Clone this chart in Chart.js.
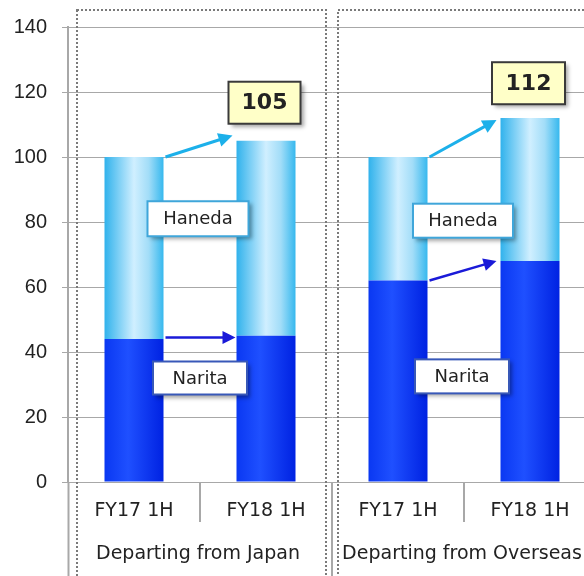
<!DOCTYPE html>
<html>
<head>
<meta charset="utf-8">
<script src="https://cdn.jsdelivr.net/npm/chart.js@4/dist/chart.umd.min.js"></script>
<style>
  html, body { margin: 0; padding: 0; background: #fff; overflow: hidden; }
  #wrap { width: 596px; height: 576px; }
</style>
</head>
<body>
<div id="wrap"><canvas id="chart" width="596" height="576"></canvas></div>
<script>
const categories = ['FY17 1H', 'FY18 1H', 'FY17 1H', 'FY18 1H'];
const groups = ['Departing from Japan', 'Departing from Overseas'];
const narita = [44, 45, 62, 68];
const haneda = [56, 60, 38, 44];
const yTicks = [0, 20, 40, 60, 80, 100, 120, 140];

const barPct = 0.447;
const textFont = 'DejaVu Sans';
const textColor = '#222222';

// horizontal gradient across each bar, like a shaded cylinder
const barFill = (stops) => (c) => {
	const xs = c.chart.scales.x;
	if (!xs || c.dataIndex === undefined) return stops[0][1];
	const mid = xs.getPixelForValue(c.dataIndex);
	const hw = xs.width / categories.length * barPct / 2;
	if (!isFinite(mid) || !isFinite(hw) || hw <= 0) return stops[0][1];
	const g = c.chart.ctx.createLinearGradient(mid - hw, 0, mid + hw, 0);
	stops.forEach(([o, col]) => g.addColorStop(o, col));
	return g;
};

const drawArrow = (ctx, x1, y1, x2, y2, color, width, head) => {
	const a = Math.atan2(y2 - y1, x2 - x1);
	ctx.save();
	ctx.strokeStyle = color;
	ctx.fillStyle = color;
	ctx.lineWidth = width;
	ctx.beginPath();
	ctx.moveTo(x1, y1);
	ctx.lineTo(x2 - Math.cos(a) * head * 0.8, y2 - Math.sin(a) * head * 0.8);
	ctx.stroke();
	ctx.beginPath();
	ctx.moveTo(x2, y2);
	ctx.lineTo(x2 - Math.cos(a) * head + Math.sin(a) * head * 0.5, y2 - Math.sin(a) * head - Math.cos(a) * head * 0.5);
	ctx.lineTo(x2 - Math.cos(a) * head - Math.sin(a) * head * 0.5, y2 - Math.sin(a) * head + Math.cos(a) * head * 0.5);
	ctx.closePath();
	ctx.fill();
	ctx.restore();
};

const drawBox = (ctx, cx, cy, w, h, fill, stroke, text, font) => {
	ctx.save();
	ctx.shadowColor = 'rgba(0,0,0,0.35)';
	ctx.shadowBlur = 4;
	ctx.shadowOffsetX = 3;
	ctx.shadowOffsetY = 3;
	ctx.fillStyle = fill;
	ctx.fillRect(cx - w / 2, cy - h / 2, w, h);
	ctx.shadowColor = 'transparent';
	ctx.strokeStyle = stroke;
	ctx.lineWidth = 2;
	ctx.strokeRect(cx - w / 2, cy - h / 2, w, h);
	ctx.fillStyle = textColor;
	ctx.font = font;
	ctx.textAlign = 'center';
	ctx.textBaseline = 'middle';
	ctx.fillText(text, cx, cy + 1);
	ctx.restore();
};

const decorations = {
	id: 'decorations',
	beforeDatasetsDraw(chart) {
		const { ctx, scales: { x } } = chart;
		const px = i => x.getPixelForValue(i);
		const mid = (px(1) + px(2)) / 2;
		// dotted frames around each group
		ctx.save();
		ctx.strokeStyle = '#7a7a7a';
		ctx.lineWidth = 2;
		ctx.setLineDash([2, 2]);
		ctx.strokeRect(x.left + 9, 10, mid - 6 - (x.left + 9), 600);
		ctx.strokeRect(mid + 6, 10, 600, 600);
		ctx.restore();
	},
	afterDatasetsDraw(chart) {
		const { ctx, scales: { x, y } } = chart;
		const px = i => x.getPixelForValue(i);
		const hw = x.width / categories.length * barPct / 2;
		const total = i => narita[i] + haneda[i];

		drawArrow(ctx, px(0) + hw + 2, y.getPixelForValue(total(0)), px(1) - hw - 4, y.getPixelForValue(106.6), '#1cb0ea', 3, 14);
		drawArrow(ctx, px(2) + hw + 2, y.getPixelForValue(total(2)), px(3) - hw - 4, y.getPixelForValue(111.4), '#1cb0ea', 3, 14);
		drawArrow(ctx, px(0) + hw + 2, y.getPixelForValue(narita[0] + 0.5), px(1) - hw - 1, y.getPixelForValue(narita[0] + 0.5), '#1a1ad8', 2.5, 13);
		drawArrow(ctx, px(2) + hw + 2, y.getPixelForValue(narita[2]), px(3) - hw - 4, y.getPixelForValue(narita[3]), '#1a1ad8', 2.5, 13);

		const g1 = (px(0) + px(1)) / 2;
		const g2 = (px(2) + px(3)) / 2;
		const labelFont = '18px "' + textFont + '"';
		drawBox(ctx, g1 - 2, y.getPixelForValue(81), 101, 35, '#ffffff', '#3fa6da', 'Haneda', labelFont);
		drawBox(ctx, g2 - 1, y.getPixelForValue(80.4), 100, 34, '#ffffff', '#3fa6da', 'Haneda', labelFont);
		drawBox(ctx, g1, y.getPixelForValue(32), 94, 33, '#ffffff', '#3858b8', 'Narita', labelFont);
		drawBox(ctx, g2 - 2, y.getPixelForValue(32.5), 94, 34, '#ffffff', '#3858b8', 'Narita', labelFont);

		const totalFont = 'bold 22px "' + textFont + '"';
		drawBox(ctx, px(1) - 1.5, y.getPixelForValue(116.7), 72, 42, '#ffffc8', '#3a3a3a', String(total(1)), totalFont);
		drawBox(ctx, px(3) - 1.5, y.getPixelForValue(122.7), 73, 42, '#ffffc8', '#3a3a3a', String(total(3)), totalFont);
	},
	afterDraw(chart) {
		const { ctx, scales: { x }, chartArea } = chart;
		const px = i => x.getPixelForValue(i);
		const bound = i => (px(i) + px(i + 1)) / 2;
		const base = chartArea.bottom;
		ctx.save();
		ctx.strokeStyle = '#a8a8a8';
		ctx.lineWidth = 2;
		[0, 2].forEach(i => {
			ctx.beginPath();
			ctx.moveTo(bound(i), base);
			ctx.lineTo(bound(i), base + 40);
			ctx.stroke();
		});
		[x.left + 0.5, bound(1)].forEach(bx => {
			ctx.beginPath();
			ctx.moveTo(bx, base);
			ctx.lineTo(bx, chart.height);
			ctx.stroke();
		});
		ctx.fillStyle = textColor;
		ctx.font = '19px "' + textFont + '"';
		ctx.textAlign = 'center';
		ctx.textBaseline = 'middle';
		groups.forEach((g, i) => {
			ctx.fillText(g, bound(i * 2) - 2, base + 72);
		});
		ctx.restore();
	}
};

new Chart(document.getElementById('chart').getContext('2d'), {
	type: 'bar',
	data: {
		labels: categories,
		datasets: [
			{
				label: 'Narita',
				data: narita,
				backgroundColor: barFill([[0, '#0a38f2'], [0.4, '#1f50ff'], [1, '#0022e2']]),
				barPercentage: barPct,
				categoryPercentage: 1
			},
			{
				label: 'Haneda',
				data: haneda,
				backgroundColor: barFill([[0, '#30b2ec'], [0.5, '#d0efff'], [0.75, '#a2ddf8'], [1, '#36b8ee']]),
				barPercentage: barPct,
				categoryPercentage: 1
			}
		]
	},
	options: {
		responsive: false,
		animation: false,
		layout: { padding: { top: 20, left: 0, right: 0, bottom: 0 } },
		plugins: { legend: { display: false }, tooltip: { enabled: false } },
		scales: {
			x: {
				stacked: true,
				grid: { display: false, drawTicks: false },
				border: { display: false },
				ticks: { color: textColor, font: { family: textFont, size: 19 }, padding: 18 },
				afterFit: s => { s.height = 94; }
			},
			y: {
				stacked: true,
				min: 0,
				max: 140,
				afterBuildTicks: s => { s.ticks = yTicks.map(v => ({ value: v })); },
				ticks: { color: textColor, font: { family: 'Liberation Sans', size: 20 }, padding: 15 },
				grid: { color: '#a8a8a8', tickLength: 6 },
				border: { display: true, color: '#a8a8a8', width: 2 },
				afterFit: s => { s.width = 68; }
			}
		}
	},
	plugins: [decorations]
});
</script>
</body>
</html>
